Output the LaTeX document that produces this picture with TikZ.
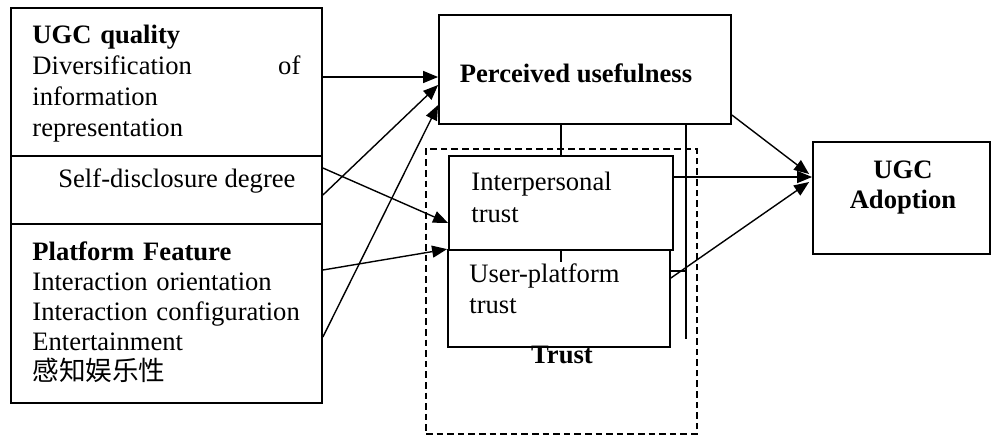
\documentclass[tikz,border=0pt]{standalone}
\usepackage{fontspec}
\setmainfont{Liberation Serif}
\newfontfamily\cjkfont{Noto Sans CJK SC}
\usetikzlibrary{arrows.meta,calc}
\begin{document}
\begin{tikzpicture}[x=0.5pt,y=-0.5pt,
    box/.style={draw,line width=0.9pt,inner sep=0pt},
    txt/.style={inner sep=0pt,anchor=base west,align=left,
      font=\fontsize{13.3}{15.5}\selectfont},
    arr/.style={line width=0.7pt,-{Triangle[length=7.5pt,width=6pt]}}]
  \useasboundingbox (0,0) rectangle (992,436);
  \draw
    (561.5,291.5) node[draw,line width=0.7pt,dash pattern=on 3.3pt off 2pt,
      inner sep=0pt,minimum width=135.5pt,minimum height=142.5pt] (trust){}
    (166.5,82) node[box,minimum width=155.5pt,minimum height=74pt] (quality){}
    (166.5,190) node[box,minimum width=155.5pt,minimum height=34pt] (selfdis){}
    (166.5,313.5) node[box,minimum width=155.5pt,minimum height=89.5pt] (platform){}
    (585,69.5) node[box,minimum width=146pt,minimum height=54.5pt] (pu){}
    (561,203) node[box,minimum width=112pt,minimum height=47pt] (inter){}
    (559,298.5) node[box,minimum width=111pt,minimum height=48.5pt] (userplat){}
    (901.5,198) node[box,minimum width=88.5pt,minimum height=56pt] (adopt){};
  \draw
    (32,43) node[txt,text width=134pt] (qualitytxt)
      {\textbf{UGC quality}\\Diversification\hfill of\\information\\representation}
    (58,187) node[txt] (selfdistxt) {Self-disclosure degree}
    (32,260) node[txt,text width=145pt,font=\fontsize{13.3}{15}\selectfont] (platformtxt)
      {\textbf{Platform Feature}\\Interaction orientation\\Interaction configuration\\
       Entertainment\\{\cjkfont 感知娱乐性}}
    (576,82) node[txt,anchor=base] (putxt) {\textbf{Perceived usefulness}}
    (471,190) node[txt,text width=100pt,font=\fontsize{13.3}{16}\selectfont] (intertxt)
      {Interpersonal\\trust}
    (469,282) node[txt,text width=100pt] (userplattxt) {User-platform\\trust}
    (562,363) node[txt,anchor=base] (trusttxt) {\textbf{Trust}}
    (903,178) node[txt,anchor=base,text width=80pt,align=center,
      font=\fontsize{13.3}{15}\selectfont] (adopttxt) {\textbf{UGC}\\\textbf{Adoption}};
  \coordinate (intertick) at (561,262);
  \coordinate (longbot) at (686,339);
  \coordinate (shorttick) at (686,271);
  \begin{scope}[line width=0.7pt]
    \draw (inter.north) -- (inter.north |- pu.south);
    \draw (inter.south) -- (intertick);
    \draw (longbot |- pu.south) -- (longbot);
    \draw (shorttick -| userplat.east) -- (shorttick);
  \end{scope}
  \begin{scope}[arr]
    \draw ($(quality.east)+(0,-5)$) coordinate (q1) -- (q1 -| pu.west);
    \draw ($(selfdis.east)+(0,5)$) -- ($(pu.west)+(0,15.5)$);
    \draw ($(platform.east)+(0,23.5)$) -- ($(pu.west)+(0,35.5)$);
    \draw ($(selfdis.east)+(0,-22)$) -- ($(inter.west)+(0,20)$);
    \draw ($(platform.east)+(0,-43.5)$) -- (userplat.north west);
    \draw ($(pu.east)+(0,45.5)$) -- ($(adopt.west)+(-3,-24)$);
    \draw ($(inter.east)+(0,-26)$) coordinate (i1) -- (i1 -| adopt.west);
    \draw ($(userplat.east)+(0,-20.5)$) -- ($(adopt.west)+(-3,-16)$);
  \end{scope}
\end{tikzpicture}
\end{document}
